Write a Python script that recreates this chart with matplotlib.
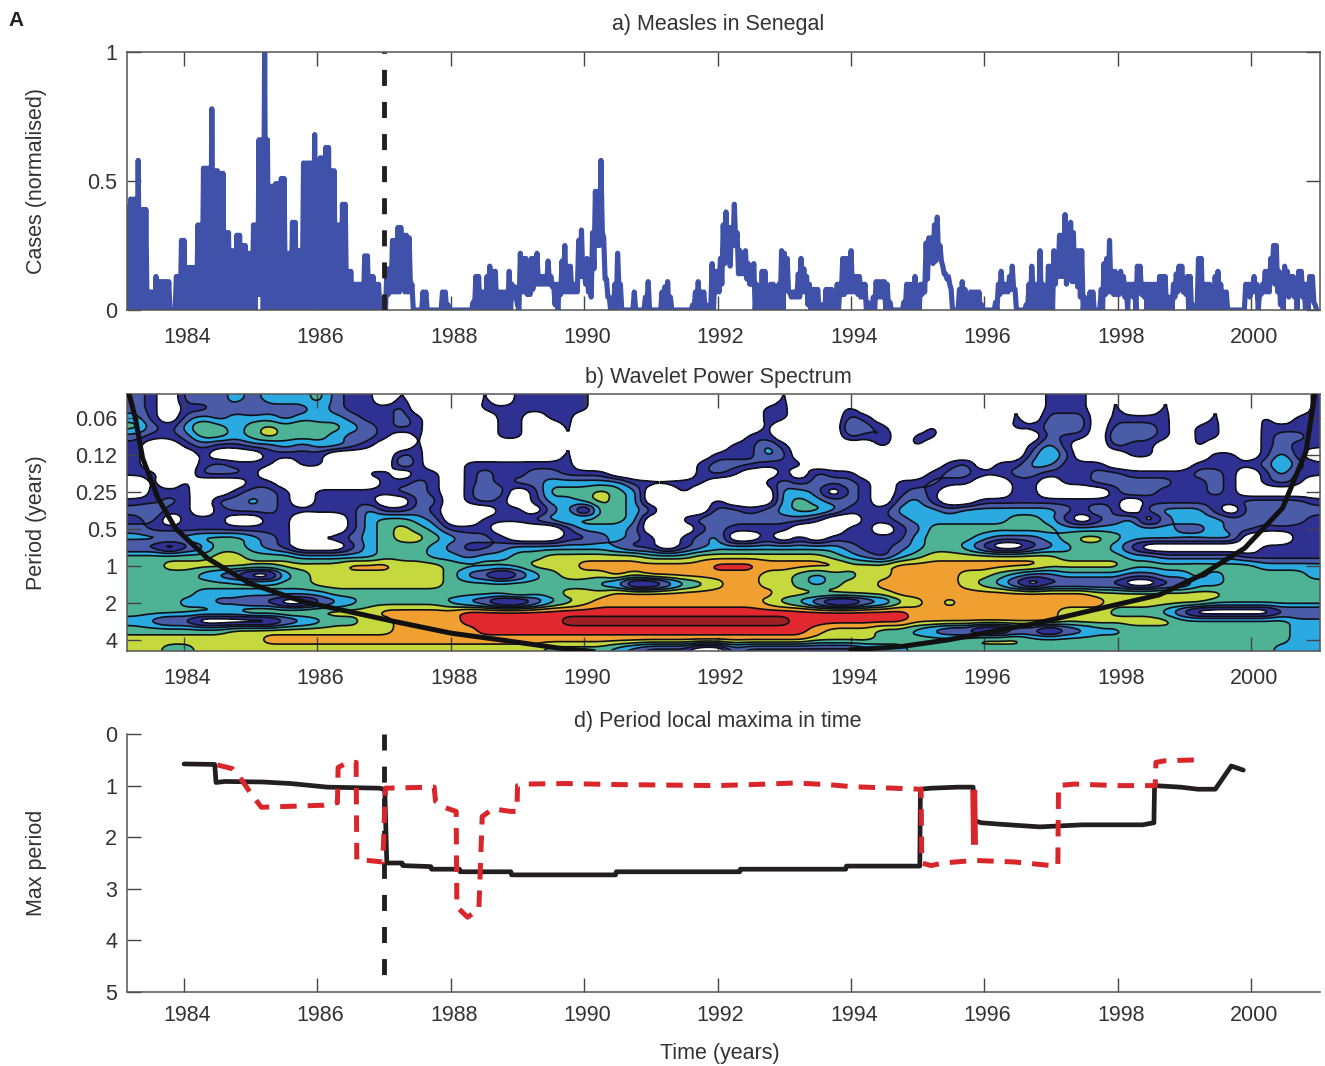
import numpy as np
import matplotlib
matplotlib.use('Agg')
import matplotlib.pyplot as plt
from matplotlib.transforms import ScaledTranslation

plt.rcParams['font.family'] = ['Liberation Sans', 'DejaVu Sans']

# cases per year (normalised): upper and lower edge of the weekly zigzag
top_1983 = [.40, .43, .43, .43, .58, .39, .39, .39, .07, .07, .07, .13, .11, .11, .11, .11, .11, 0, 0, .13, .13, .27]
low_1983 = [0, .07, 0, 0, .07, 0, 0, 0, 0, 0, 0, 0, 0, 0, 0, 0, 0, 0, 0, 0, 0, 0]
top_1984 = [.27, .165, .165, .165, .165, .33, .33, .55, .55, .55, .78, .54, .54, .53, .53, .30, .30, .23, .23, .29, .29, .25, .25, .22]
low_1984 = [0, 0, 0, 0, 0, 0, 0, 0, 0, 0, .1, 0, .1, 0, 0, 0, 0, 0, 0, 0, 0, 0, 0, 0]
top_1985 = [.22, .33, .33, .66, .66, 1.0, .66, .48, .48, .49, .49, .51, .51, .22, .22, .34, .34, .23, .23, .57, .57, .57, .57, .68]
low_1985 = [0, 0, .06, .06, 0, 0, 0, 0, 0, 0, 0, 0, 0, 0, 0, 0, 0, 0, 0, 0, 0, 0, 0, 0]
top_1986 = [.55, .59, .59, .63, .63, .54, .54, .33, .33, .41, .41, .15, .15, .10, .10, .10, .10, .21, .21, .13, .13, .10, .10, .02]
low_1986 = [0, 0, 0, 0, 0, 0, 0, 0, 0, 0, 0, 0, 0, 0, 0, 0, 0, 0, 0, 0, 0, 0, 0, 0]
top_1987 = [.05, .16, .16, .27, .27, .32, .32, .29, .29, .28, .1, 0, 0, 0, .07, .07, 0, 0, 0, 0, 0, .07, .07, .02]
low_1987 = [0, .06, .07, .07, .07, .07, .1, .07, .07, .07, 0, 0, 0, 0, 0, 0, 0, 0, 0, 0, 0, 0, 0, 0]
top_1988 = [0, 0, 0, 0, 0, 0, 0, 0, .03, .13, .13, .07, .07, .13, .17, .15, .15, .07, .07, .07, .07, .15, .10, .09]
low_1988 = [0, 0, 0, 0, 0, 0, 0, 0, 0, 0, 0, 0, 0, 0, 0, 0, 0, 0, 0, 0, 0, 0, .05, .05]
top_1989 = [.02, .22, .2, .2, .1, .2, .2, .22, .13, .13, .13, .19, .13, .1, .1, .1, .19, .25, .17, .17, .1, .1, .27, .31]
low_1989 = [0, .07, .07, .06, .06, .08, .1, .1, .1, .1, .1, .1, .09, .02, 0, .06, .07, .07, .07, .07, .07, .07, .13, .13]
top_1990 = [.15, .2, .1, .30, .46, .46, .58, .28, .12, .05, .02, .1, .22, .1, 0, 0, 0, 0, .07, 0, 0, 0, .05, .11]
low_1990 = [.1, .07, .05, .16, .25, .25, .3, .12, .05, 0, 0, 0, .08, 0, 0, 0, 0, 0, 0, 0, 0, 0, 0, 0]
top_1991 = [0, 0, 0, 0, .07, .09, .11, .05, 0, 0, 0, 0, 0, 0, 0, .02, .07, .11, .07, .07, .02, 0, .18, .15]
low_1991 = [0, 0, 0, 0, 0, 0, 0, 0, 0, 0, 0, 0, 0, 0, 0, 0, 0, 0, 0, 0, 0, 0, 0, .07]
top_1992 = [.15, .2, .33, .38, .32, .32, .41, .3, .23, .2, .23, .18, .10, .18, .1, 0, .15, .15, .02, .1, .1, .02, .1, .23]
low_1992 = [.07, .1, .18, .2, .17, .25, .25, .14, .14, .14, .12, .1, .1, 0, 0, 0, 0, 0, 0, 0, 0, 0, 0, 0]
top_1993 = [.22, .2, .07, .07, .07, .14, .2, .16, .13, .1, .08, .08, .08, .02, .02, .08, .08, .08, 0, .1, .1, .2, .2, .2]
low_1993 = [.08, .07, .05, .05, .05, .05, .07, .07, .02, 0, 0, 0, 0, 0, 0, 0, 0, 0, 0, 0, .06, .06, .07, .07]
top_1994 = [.23, .13, .13, .13, .1, .1, .03, 0, .05, .11, .11, .11, .11, .1, .03, 0, 0, 0, 0, .03, .1, .1, .1, .13]
low_1994 = [.07, .07, .06, .05, .05, 0, 0, 0, 0, .05, .05, .05, 0, 0, 0, 0, 0, 0, 0, 0, 0, .05, 0, .05]
top_1995 = [.03, .1, .1, .26, .28, .28, .33, .36, .25, .17, .14, .13, .08, 0, 0, .08, .11, .08, 0, .07, .07, .07, .07, .02]
low_1995 = [0, .06, .07, .12, .19, .18, .19, .2, .19, .14, .12, .1, 0, 0, 0, 0, 0, 0, 0, 0, 0, 0, 0, 0]
top_1996 = [0, 0, 0, 0, .03, .1, .15, .1, .1, .13, .17, .08, 0, 0, 0, .02, .1, .17, .05, .1, .23, .1, 0, .17]
low_1996 = [0, 0, 0, 0, 0, .06, .07, .07, .07, .08, .08, 0, 0, 0, 0, 0, 0, .08, 0, 0, 0, .03, 0, 0]
top_1997 = [.17, .23, .2, .29, .29, .37, .3, .34, .3, .23, .23, .23, .05, 0, .07, .07, 0, 0, .08, .18, .2, .27, .15, .15]
low_1997 = [0, .1, .13, .13, .13, .1, .13, .11, .11, .09, .05, 0, 0, 0, 0, 0, 0, 0, 0, .06, .07, .07, .06, .06]
top_1998 = [.1, .15, .13, .1, .1, .1, .1, .17, .17, .1, .1, .1, .1, .1, .1, .13, .13, .13, .05, .05, .1, .14, .17, .17]
low_1998 = [.06, .07, .05, 0, .06, .05, 0, .07, .06, .05, 0, .02, 0, .02, 0, 0, 0, 0, 0, 0, .05, .07, .08, .07]
top_1999 = [.1, .13, .13, .02, 0, .2, .2, .1, .1, .1, .07, .13, .15, .1, .07, .07, 0, 0, 0, 0, 0, 0, .1, .1]
low_1999 = [.06, 0, 0, 0, 0, 0, 0, 0, 0, 0, 0, 0, 0, 0, 0, 0, 0, 0, 0, 0, 0, 0, .07, .05]
top_2000 = [.1, .13, .1, .07, .1, .15, .15, .2, .25, .25, .15, .1, .17, .15, .13, .13, .1, .15, .15, .1, .1, .13, .13, .02]
low_2000 = [.07, .07, 0, .06, .07, .07, .07, .13, .1, .07, .02, 0, .07, .05, .06, .05, 0, .07, .05, 0, 0, .05, .03, 0]

top_years = [top_1984, top_1985, top_1986, top_1987, top_1988, top_1989, top_1990, top_1991, top_1992, top_1993,
             top_1994, top_1995, top_1996, top_1997, top_1998, top_1999, top_2000]
low_years = [low_1984, low_1985, low_1986, low_1987, low_1988, low_1989, low_1990, low_1991, low_1992, low_1993,
             low_1994, low_1995, low_1996, low_1997, low_1998, low_1999, low_2000]
cases_start = 1983.16

# wavelet power class per cell, top row first: 0 is below the lowest contour, 8 the strongest
wavelet_rows = [
    "2102223233" "3421101000" "0101111101" "010010" "1001001000" "0100100101" "1101001001" "000001",
    "2101122122" "2321112000" "0111111101" "010000" "1011010101" "0100100101" "1101001001" "000001",
    "3102323332" "3332112100" "0011011000" "001000" "0011010210" "0000000102" "2201111001" "001011",
    "4213543454" "5443212100" "0011001000" "000000" "0010010321" "0010000112" "3202221011" "001111",
    "2112443454" "4432210100" "0011001000" "000000" "0110000212" "0110000002" "1103221011" "001221",
    "1001211223" "2332100100" "0000001000" "000000" "1131000001" "0100000013" "1002110010" "001211",
    "1000100011" "1100002100" "0000001000" "000001" "1132000000" "0000000024" "2000110001" "101310",
    "1000121110" "1100003100" "1111111000" "000012" "2211100000" "0001201133" "1110000011" "112421",
    "1100222100" "0000110110" "1211221110" "000012" "1001021100" "0012211221" "1122111122" "101311",
    "0101000110" "0000011210" "1212233333" "111110" "0012122210" "1121100110" "1122222112" "101210",
    "0111001221" "0111112210" "1320144454" "300100" "0003320210" "1210000110" "0001321112" "100000",
    "1121022321" "0111100220" "1210133454" "300001" "0003432210" "2310011111" "1111011111" "122221",
    "2311012221" "1111311210" "0011023044" "320002" "2123443111" "3332333333" "2131023331" "022222",
    "1201110011" "0001344320" "0111234444" "300123" "2222210011" "2333333443" "1012302333" "222321",
    "2111111111" "0001345431" "1100001333" "200012" "1111000110" "1244444444" "3333333223" "221111",
    "3333444321" "0112345543" "2210001123" "210123" "0010101111" "1344432223" "4554333333" "300011",
    "1101244321" "0001344432" "1123333332" "110123" "3333333211" "2344310012" "3443100000" "001111",
    "4444455444" "3333344433" "2334455555" "544455" "5555554321" "3455555555" "4444332222" "211111",
    "4455555555" "5556665554" "4444555666" "666667" "7766666555" "6666666665" "5555444444" "443333",
    "4444321003" "4555555554" "2101345556" "566666" "6655434455" "6666554322" "3333223343" "444443",
    "4444444444" "4555555554" "4444444432" "001345" "6655434556" "6666543101" "1111001133" "444444",
    "4444333333" "3344444444" "4445445556" "666666" "6665555555" "6666666666" "6655555555" "444444",
    "4443322110" "0123444443" "2100134566" "666666" "6654310012" "4565666666" "6665555554" "444444",
    "4444444555" "5555566666" "7777777777" "777777" "7777777777" "7666666666" "5554443100" "000111",
    "3211000001" "2344556666" "7777778888" "888888" "8888777777" "7666666666" "5555555444" "444433",
    "4444445555" "5555556666" "6777777777" "777777" "7777765554" "4321100110" "1233444444" "444433",
    "5555555566" "6666666666" "6666666666" "666666" "6666655554" "4444455544" "4444444444" "444433",
    "5544555555" "5555555555" "5555544443" "211100" "2111111123" "3444444444" "4444444444" "444333",
]

# cone of influence
coi_left_t = [1983.18, 1983.27, 1983.38, 1983.61, 1983.87, 1984.35, 1984.98, 1985.78, 1987.15, 1988.01, 1988.75,
              1989.61, 1990.13]
coi_left_p = [.0407, .0625, .133, .281, .493, .865, 1.385, 1.95, 2.83, 3.53, 4.0, 4.66, 4.96]
coi_right_t = [1994.0, 1994.75, 1995.45, 1996.78, 1997.76, 1998.62, 1999.26, 1999.9, 2000.47, 2000.82, 2000.95]
coi_right_p = [4.82, 4.53, 4.0, 2.93, 2.2, 1.72, 1.18, .717, .337, .117, .0407]

# panel d, black solid line
black_t = [1984.0, 1984.46, 1984.48, 1984.61, 1985.18, 1985.6, 1986.15, 1986.93, 1987.0, 1987.01, 1987.04, 1987.27,
           1987.28, 1987.7, 1987.71, 1988.13, 1988.14, 1988.9, 1988.91, 1990.47, 1990.48, 1992.33, 1992.34, 1993.92,
           1993.93, 1995.03, 1995.04, 1995.2, 1995.6, 1995.83, 1995.85, 1995.95, 1996.25, 1996.83, 1997.47, 1998.37,
           1998.54, 1998.55, 1998.94, 1999.2, 1999.46, 1999.7, 1999.88]
black_y = [.58, .59, .94, .92, .93, .96, 1.03, 1.05, 1.07, 1.1, 2.5, 2.5, 2.55, 2.57, 2.62, 2.62, 2.67, 2.67, 2.73,
           2.73, 2.67, 2.67, 2.62, 2.62, 2.56, 2.56, 1.07, 1.05, 1.03, 1.03, 1.68, 1.72, 1.75, 1.8, 1.76, 1.76,
           1.72, 1.0, 1.03, 1.07, 1.07, .62, .7]

# panel d, red dashed line
red_t = [1984.5, 1984.72, 1984.87, 1985.0, 1985.16, 1986.1, 1986.3, 1986.31, 1986.45, 1986.58, 1986.59, 1986.75,
         1986.98, 1987.02, 1987.75, 1987.77, 1987.92, 1988.08, 1988.09, 1988.25, 1988.42, 1988.47, 1988.63, 1988.89,
         1988.99, 1989.0, 1989.15, 1989.7, 1990.5, 1992.0, 1992.75, 1993.15, 1993.65, 1994.0, 1995.05, 1995.06,
         1995.2, 1995.38, 1995.85, 1996.45, 1997.0, 1997.1, 1997.11, 1997.35, 1998.0, 1998.56, 1998.57, 1998.7,
         1999.2]
red_y = [.6, .67, .9, 1.15, 1.42, 1.38, 1.33, .65, .55, .55, 2.45, 2.45, 2.48, 1.05, 1.03, 1.3, 1.43, 1.5, 3.35, 3.55,
         3.4, 1.6, 1.45, 1.5, 1.5, 1.0, .97, .96, .98, 1.0, .97, .95, .98, 1.02, 1.07, 2.5, 2.55, 2.5, 2.45, 2.48,
         2.55, 2.55, 1.0, .97, 1.0, 1.0, .55, .52, .5]
red_jump_t = [1995.84, 1995.85]
red_jump_y = [1.15, 2.08]

years = list(range(1984, 2001, 2))
period_ticks = [0.0625, 0.125, 0.25, 0.5, 1, 2, 4]
period_labels = ['0.06', '0.12', '0.25', '0.5', '1', '2', '4']
wavelet_colors = ['#2E3192', '#4A5BA8', '#2BA9E1', '#4DB394', '#C5D83E', '#F0A030', '#E0282E', '#9E1F22']

W, H = 1325, 1066
x_lim = (1983.145, 2001.03)
text_c = '#333333'
font = 15.5


def make_axes(top, bottom):
    return fig.add_axes([127 / W, 1 - bottom / H, (1320 - 127) / W, (bottom - top) / H])


def style_axes(ax, mirror=True, xpad=12):
    ax.set_xlim(x_lim)
    ax.set_xticks(years)
    ax.tick_params(axis='both', which='major', direction='in', length=10, width=1, color='#444444',
                   labelcolor=text_c, labelsize=font, top=mirror, right=mirror)
    ax.tick_params(axis='x', pad=xpad)
    ax.tick_params(axis='y', pad=7)
    ax.tick_params(axis='both', which='minor', length=0)
    # labels sit slightly right of their ticks in the original
    shift = ScaledTranslation(3 / 100, 0, fig.dpi_scale_trans)
    for lab in ax.get_xticklabels():
        lab.set_transform(lab.get_transform() + shift)
    for s in ax.spines.values():
        s.set_color('#555555')
        s.set_linewidth(1.1)
    ax.yaxis.set_label_coords((47 - 127) / (1320 - 127), 0.5)


# blocky class grid to a smooth field for the contours
def smooth_grid(rows, nx=8, ny=6):
    z = np.array([[int(c) for c in r] for r in rows], dtype=float)
    z[z == 0] = -1
    z = np.kron(z, np.ones((ny, nx)))
    for _ in range(2):
        pad = np.pad(z, ((0, 0), (nx, nx)), mode='edge')
        z = np.apply_along_axis(lambda v: np.convolve(v, np.ones(nx) / nx, mode='same'), 1, pad)[:, nx:-nx]
        pad = np.pad(z, ((ny, ny), (0, 0)), mode='edge')
        z = np.apply_along_axis(lambda v: np.convolve(v, np.ones(ny) / ny, mode='same'), 0, pad)[ny:-ny, :]
    return z


fig = plt.figure(figsize=(W / 100, H / 100), dpi=100)

# a) Measles in Senegal
t_parts = []
v_parts = []


def add_year(t0, t1, top, low):
    step = (t1 - t0) / len(top)
    for i in range(len(top)):
        t_parts.extend([t0 + i * step, t0 + (i + 0.5) * step])
        v_parts.extend([top[i], low[i]])


add_year(cases_start, 1984, top_1983, low_1983)
for i in range(len(top_years)):
    add_year(1984 + i, 1985 + i, top_years[i], low_years[i])

ax1 = make_axes(52, 310)
ax1.plot(t_parts, v_parts, color='#3F51A8', lw=3.7, solid_joinstyle='round', zorder=2)
ax1.plot([1987, 1987], [0, 1], color='#231F20', lw=3.5, linestyle=(0, (3.3, 3.3)), dash_capstyle='butt', zorder=3)
ax1.set_ylim(0, 1)
ax1.set_yticks([0, 0.5, 1])
ax1.set_yticklabels(['0', '0.5', '1'])
style_axes(ax1)
ax1.set_ylabel('Cases (normalised)', fontsize=font, color=text_c)
fig.text(718 / W, 1 - 24.5 / H, 'a) Measles in Senegal', ha='center', va='center', fontsize=font, color=text_c)

# b) Wavelet Power Spectrum
ax2 = make_axes(394, 651)
z_fine = smooth_grid(wavelet_rows)
oct_top, oct_bot = -4.65, 2.30
x_fine = np.linspace(x_lim[0], x_lim[1], z_fine.shape[1])
p_fine = 2.0 ** np.linspace(oct_top, oct_bot, z_fine.shape[0])
levels = np.arange(0.5, 9.0, 1.0)
ax2.contourf(x_fine, p_fine, z_fine, levels=levels, colors=wavelet_colors, zorder=1)
ax2.contour(x_fine, p_fine, z_fine, levels=levels[:-1], colors='#101018', linewidths=1.2, zorder=2)
ax2.plot(coi_left_t, coi_left_p, color='#111111', lw=3.6, zorder=3)
ax2.plot(coi_right_t, coi_right_p, color='#111111', lw=3.6, zorder=3)
ax2.set_yscale('log', base=2)
ax2.set_ylim(2.0 ** oct_bot, 2.0 ** oct_top)
ax2.set_yticks(period_ticks)
ax2.set_yticklabels(period_labels)
ax2.minorticks_off()
style_axes(ax2)
ax2.set_ylabel('Period (years)', fontsize=font, color=text_c)
fig.text(718 / W, 1 - 377 / H, 'b) Wavelet Power Spectrum', ha='center', va='center', fontsize=font, color=text_c)

# d) Period local maxima in time
ax3 = make_axes(734, 992)
ax3.plot([1987, 1987], [0, 4.7], color='#231F20', lw=3.5, linestyle=(0, (3.3, 3.3)), dash_capstyle='butt', zorder=1)
ax3.plot(black_t, black_y, color='#231F20', lw=3.4, solid_joinstyle='round', solid_capstyle='round', zorder=2)
ax3.plot(red_t, red_y, color='#D9262B', lw=3.6, linestyle=(0, (3.3, 2.2)), dash_capstyle='butt', zorder=3)
ax3.plot(red_jump_t, red_jump_y, color='#D9262B', lw=5.0, zorder=3)
ax3.set_ylim(5, 0)
ax3.set_yticks([0, 1, 2, 3, 4, 5])
style_axes(ax3, mirror=False, xpad=9.5)
ax3.spines['top'].set_visible(False)
ax3.spines['right'].set_visible(False)
ax3.set_ylabel('Max period', fontsize=font, color=text_c)
fig.text(720 / W, 1 - 1053 / H, 'Time (years)', ha='center', va='center', fontsize=font, color=text_c)
fig.text(718 / W, 1 - 722 / H, 'd) Period local maxima in time', ha='center', va='center', fontsize=font, color=text_c)

fig.text(8 / W, 1 - 20 / H, 'A', ha='left', va='center', fontsize=15, fontweight='bold', color='#222222')

fig.savefig('out.png', dpi=100)
